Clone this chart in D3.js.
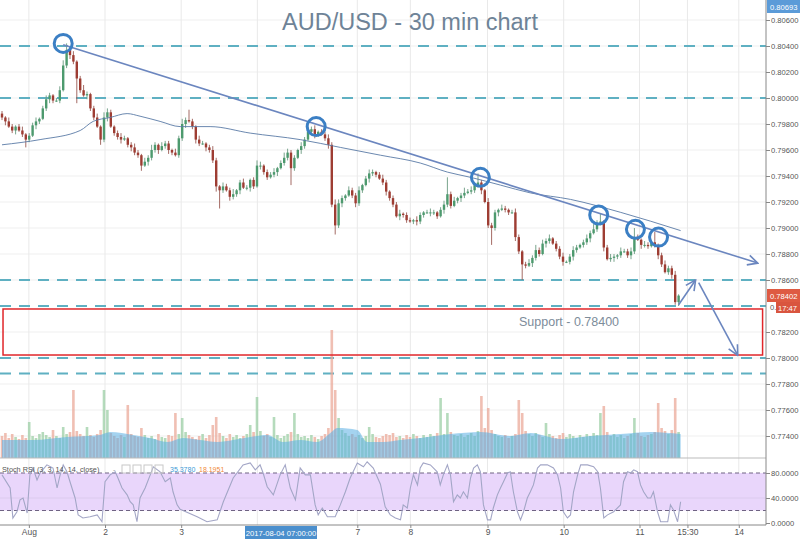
<!DOCTYPE html>
<html><head><meta charset="utf-8">
<script src="https://cdn.jsdelivr.net/npm/d3@7"></script>
<style>body{margin:0;background:#fff;} svg{display:block;font-family:"Liberation Sans",Arial,sans-serif;}</style>
</head><body><svg id="c" width="800" height="539"></svg>
<script>
// ---------- DATA ----------
const firstOpen = 0.7988;
const closes = [
0.7985,0.7982,0.7978,0.7975,0.7978,0.7975,0.7972,0.7968,0.7971,0.7979,0.7982,0.7984,0.7992,0.7999,0.8002,0.7998,0.7998,0.8006,0.8025,0.8037,
0.8033,0.8028,0.8015,0.8006,0.8002,0.8003,0.7992,0.7985,0.7978,0.7968,0.7985,0.7989,0.7978,0.7973,0.7970,0.7968,0.7969,0.7964,0.7962,0.7958,
0.7956,0.7948,0.7951,0.7954,0.7960,0.7964,0.7960,0.7963,0.7965,0.7960,0.7958,0.7956,0.7969,0.7980,0.7983,0.7982,0.7978,0.7968,0.7965,0.7965,
0.7962,0.7960,0.7952,0.7932,0.7929,0.7932,0.7929,0.7924,0.7926,0.7929,0.7935,0.7931,0.7931,0.7937,0.7932,0.7948,0.7948,0.7943,0.7939,0.7941,
0.7943,0.7946,0.7950,0.7954,0.7958,0.7946,0.7954,0.7960,0.7963,0.7968,0.7974,0.7976,0.7972,0.7974,0.7972,0.7969,0.7964,0.7918,0.7902,0.7919,
0.7923,0.7925,0.7929,0.7925,0.7919,0.7929,0.7933,0.7938,0.7942,0.7943,0.7941,0.7938,0.7935,0.7928,0.7923,0.7918,0.7909,0.7911,0.7910,0.7906,
0.7905,0.7906,0.7905,0.7910,0.7912,0.7912,0.7912,0.7912,0.7909,0.7914,0.7918,0.7926,0.7917,0.7921,0.7923,0.7925,0.7927,0.7928,0.7929,0.7933,
0.7935,0.7929,0.7920,0.7902,0.7900,0.7912,0.7914,0.7915,0.7914,0.7912,0.7912,0.7893,0.7882,0.7872,0.7871,0.7873,0.7877,0.7883,0.7880,0.7888,
0.7890,0.7892,0.7888,0.7884,0.7878,0.7874,0.7874,0.7878,0.7883,0.7885,0.7887,0.7889,0.7892,0.7896,0.7899,0.7904,0.7905,0.7885,0.7876,0.7877,
0.7878,0.7879,0.7882,0.7882,0.7879,0.7882,0.7893,0.7891,0.7887,0.7887,0.7886,0.7889,0.7887,0.7879,0.7872,0.7866,0.7869,0.7864,0.7843,0.7848];
// wick lengths above / below the body, in pips
const wickHi = [
2,1,3,2,1,2,3,1,2,2,3,1,2,3,2,1,2,3,4,5, 2,3,1,2,4,2,1,2,3,1,4,3,2,1,2,3,2,1,2,3,
2,1,3,2,4,2,1,3,2,2,1,3,2,4,2,8,2,1,3,2, 1,2,3,2,1,3,2,2,4,1,2,3,2,1,2,4,3,1,2,2,
3,1,2,4,3,2,2,1,3,2,4,2,3,1,2,2,3,2,4,3, 2,1,3,2,2,3,1,2,3,2,1,2,3,2,1,2,2,3,1,2,
2,1,3,2,1,2,3,2,1,2,3,13,2,3,1,2,4,2,3,2, 7,2,1,3,2,2,1,3,2,1,2,3,2,1,2,3,2,4,2,3,
2,3,1,2,2,3,1,2,3,2,1,2,3,2,4,2,6,1,2,3, 2,1,3,2,2,3,7,2,1,3,2,2,8,1,2,3,2,2,3,1];
const wickLo = [
2,3,1,2,3,1,2,6,2,1,3,2,1,2,3,2,1,2,1,2, 3,2,19,2,1,3,2,2,1,4,2,3,1,2,2,3,1,2,3,2,
2,4,1,3,2,2,3,1,2,3,2,1,2,2,3,1,2,3,2,1, 3,2,2,4,14,2,1,3,2,2,3,1,2,3,2,1,3,2,2,1,
2,3,1,2,2,13,2,1,3,2,1,2,3,2,1,2,3,2,7,2, 3,2,1,2,3,2,2,1,3,2,2,1,2,3,2,2,1,3,2,2,
1,2,3,2,2,1,3,2,2,1,3,2,2,1,2,3,2,1,2,2, 2,3,1,2,13,2,3,1,2,2,1,3,2,12,2,1,3,2,2,1,
3,2,1,2,2,3,1,2,3,2,1,2,2,3,1,2,2,3,1,2, 3,2,2,1,2,3,2,1,3,2,2,1,2,3,2,1,2,3,2,3];
const volumes = [
22,25,20,24,21,19,23,20,36,22,20,24,26,23,21,28,22,20,31,24, 26,68,27,24,22,31,23,21,24,28,68,48,25,22,20,23,21,53,24,22,
21,30,23,20,22,19,24,21,20,23,22,45,24,40,26,23,21,19,22,24, 20,23,33,41,25,22,20,24,21,23,20,22,24,33,26,61,27,22,24,21,
41,23,20,22,24,26,45,24,21,22,20,23,21,19,22,24,30,128,68,40, 28,25,22,24,21,23,20,22,31,24,21,20,22,24,23,25,21,22,20,23,
21,24,22,20,23,21,24,22,25,60,24,45,26,23,22,24,21,23,25,22, 27,62,30,50,28,24,22,21,23,20,22,24,58,45,27,24,22,25,23,21,
35,24,22,20,23,25,21,24,22,20,23,21,24,22,25,23,45,52,26,22, 24,21,23,20,22,24,40,25,22,21,23,24,26,55,30,27,24,28,60,26];
// volume moving average (bar index, value)
const volMAIdx = [0,9.1,19.1,28.8,31.8,38.6,43.6,48.6,53.3,58.3,63.3,68,73,78,82.7,87.7,92.7,96.6,98.6,104.5,107.4,112.2,117.2,123,131.9,140.7,149.5,155.4,164.3,173.1,181.9,190.8,199.6];
const volMA    = [18,18,21,23,26,23,20,16,20,18,16,18,21,23,16,18,16,25,30,28,16,16,18,20,24,26,22,25,19,22,24,26,24];
// price moving average (bar index, price)
const smaIdx = [0,11.2,23,26.8,31.8,36.8,40.6,46.5,52.4,61.2,73,87.7,99.5,111.3,123,131,137.8,146.6,155.4,167.2,182,199.6];
const smaVal = [0.7964,0.7968,0.7975,0.7982,0.7985,0.7988,0.7986,0.7982,0.7978,0.7978,0.7973,0.7968,0.7962,0.7956,0.7950,0.7943,0.7939,0.7933,0.7927,0.7922,0.7912,0.7898];
// Stoch RSI %K (bar index, value)
const stochIdx = [0,2.4,3.2,4.4,5.3,6.2,7.4,8.2,9.1,10.3,11.2,13.2,15,16.2,17.1,18,19.1,20,21.5,22.4,23.8,25.9,28,29.4,30.3,31.8,33.3,34.1,35.3,36.8,37.7,38.6,39.7,40.6,42.1,43.6,44.5,46.5,48,49.5,50.3,51.5,52.4,57.4,60.3,63.3,65.1,68,70.9,73,74.5,75.9,76.8,78,79.8,81.8,83.3,84.8,86.3,87.7,89.2,90.7,92.1,93,94.2,95.7,98,99.5,101,102.4,104.5,106.3,107.4,109.2,111.3,112.7,114.2,115.7,117.2,118,119.2,120.1,121,122.2,123,123.9,126,128,128.9,129.8,131,131.9,132.8,133.9,134.8,135.7,136.9,137.8,138.7,139.8,140.7,141.6,142.8,143.7,144.5,145.7,146.6,147.5,148.7,149.5,150.4,151.6,152.5,153.4,154.5,155.4,156.3,157.5,158.4,160.4,162.2,163.4,164.3,165.1,166.3,167.2,168.1,169.3,170.2,172.2,174,175.2,176,177,178.1,179.9,181.9,182.8,184,184.9,185.8,186.9,187.8,188.7,189.9,190.8,191.6,192.8,193.7,194.6,195.8,196.6,197.5,198.7,199.6];
const stochK   = [77,56,8,18,37,40,16,77,88,69,80,93,88,56,77,93,82,66,40,13,8,10,13,2,66,77,82,72,56,45,34,29,2,40,56,77,90,82,66,72,50,29,22,10,2,5,34,72,93,96,85,93,80,58,45,77,93,56,37,88,77,77,29,13,24,10,10,29,50,72,96,90,98,88,62,26,13,8,5,29,24,56,77,61,88,96,93,82,61,77,93,77,34,45,40,50,40,72,88,93,82,29,5,5,24,45,56,66,80,82,50,18,5,18,40,50,61,88,93,93,88,77,56,18,8,13,50,77,93,93,90,82,56,8,13,18,29,66,82,80,85,82,61,50,40,40,50,18,2,2,2,29,21,2,34];
// axes
const priceTicks = [0.774,0.776,0.778,0.780,0.782,0.786,0.788,0.790,0.792,0.794,0.796,0.798,0.800,0.802,0.804,0.806];
const stochTicks = [0,40,80];
const timeLabels = ["Aug","2","3","7","8","9","10","11","15:30","14"];
const timePos    = [7.9,30.3,52.7,104.5,120.1,142.8,165.2,187.5,201.6,216.7];
const gridPos    = [7.9,30.3,52.7,75.1,104.5,120.1,142.8,165.2,187.5,201.6,216.7];
// annotations
const levels = [0.8040,0.8000,0.7860,0.7840,0.7800,0.7788];
const trend = [[18,0.8041],[222.3,0.7873]];
const circles = [[18,0.8042],[92.4,0.7978],[140.7,0.7939],[175.5,0.7910],[186.3,0.7899],[193.1,0.7893]];
const supportBox = {i0:0.3, i1:223.7, top:0.78377, bottom:0.78023};
const arrowUp = [[199,0.7841],[204,0.7860]];
const arrowDown = [[204.9,0.7858],[216.4,0.7802]];

// ---------- DRAW ----------
const svg = d3.select('#c');
const AX = 766, PANE = 458, BOT = 525;
const FONT = '"Liberation Sans",Arial,sans-serif';
const x = d3.scaleLinear().domain([0,199]).range([2,678.6]);
const y = d3.scaleLinear().domain([0.774,0.806]).range([436,20]);
const yv = d3.scaleLinear().domain([0,128]).range([PANE,330]);
const ys = d3.scaleLinear().domain([0,100]).range([523,460.5]);

const defs = svg.append('defs');
defs.append('clipPath').attr('id','mc').append('rect').attr('x',0).attr('y',0).attr('width',AX).attr('height',PANE);
defs.append('clipPath').attr('id','sc').append('rect').attr('x',0).attr('y',PANE).attr('width',AX).attr('height',BOT-PANE);
defs.append('marker').attr('id','ah').attr('viewBox','0 0 12 12').attr('refX',11).attr('refY',6)
   .attr('markerWidth',12).attr('markerHeight',12).attr('markerUnits','userSpaceOnUse').attr('orient','auto')
   .append('path').attr('d','M1,1 L11,6 L1,11').attr('fill','none').attr('stroke','#6b86bf').attr('stroke-width',1.6);

svg.append('rect').attr('width',800).attr('height',539).attr('fill','#fff');

// grid
const grid = svg.append('g');
grid.selectAll('.hg').data(priceTicks).enter().append('line')
  .attr('x1',0).attr('x2',AX).attr('y1',d=>y(d)).attr('y2',d=>y(d)).attr('stroke','#efefef');
grid.selectAll('.vg').data(gridPos).enter().append('line')
  .attr('x1',d=>x(d)).attr('x2',d=>x(d)).attr('y1',0).attr('y2',BOT).attr('stroke','#e9e9e9');

const main = svg.append('g').attr('clip-path','url(#mc)');

// dashed levels
main.selectAll('.lv').data(levels).enter().append('line')
  .attr('x1',0).attr('x2',AX).attr('y1',d=>y(d)).attr('y2',d=>y(d))
  .attr('stroke','#5fb0c2').attr('stroke-width',2).attr('stroke-dasharray','11,8');

// candles data
const opens = closes.map((c,i)=> i===0 ? firstOpen : closes[i-1]);
const bars = closes.map((c,i)=>{
  const o = opens[i];
  return {i, o, c, h: Math.max(o,c)+wickHi[i]*0.0001, l: Math.min(o,c)-wickLo[i]*0.0001, v: volumes[i], up: c>=o};
});

// volume
main.selectAll('.vb').data(bars).enter().append('rect')
  .attr('x',d=>x(d.i)-1.3).attr('width',2.6)
  .attr('y',d=>yv(d.v)).attr('height',d=>PANE-yv(d.v))
  .attr('fill',d=>d.up?'#9ccfa6':'#eba99a').attr('opacity',0.75);
const va = d3.area().x((d,k)=>x(volMAIdx[k])).y0(PANE).y1(d=>yv(d)).curve(d3.curveMonotoneX);
main.append('path').datum(volMA).attr('d',va).attr('fill','#5aaee3').attr('opacity',0.55);

// support box
main.append('rect').attr('x',x(supportBox.i0)).attr('width',x(supportBox.i1)-x(supportBox.i0))
  .attr('y',y(supportBox.top)).attr('height',y(supportBox.bottom)-y(supportBox.top))
  .attr('fill','none').attr('stroke','#e0262a').attr('stroke-width',1.5);

// candles
const cg = main.append('g');
cg.selectAll('.wk').data(bars).enter().append('line')
  .attr('x1',d=>x(d.i)).attr('x2',d=>x(d.i)).attr('y1',d=>y(d.h)).attr('y2',d=>y(d.l))
  .attr('stroke',d=>d.up?'#6a9a80':'#9a5a52').attr('stroke-width',0.9);
cg.selectAll('.bd').data(bars).enter().append('rect')
  .attr('x',d=>x(d.i)-1.2).attr('width',2.4)
  .attr('y',d=>y(Math.max(d.o,d.c))).attr('height',d=>Math.max(1,Math.abs(y(d.o)-y(d.c))))
  .attr('fill',d=>d.up?'#4d9a6e':'#9e3d33');

// SMA
main.append('path').datum(smaVal)
  .attr('d',d3.line().x((d,k)=>x(smaIdx[k])).y(d=>y(d)).curve(d3.curveMonotoneX))
  .attr('fill','none').attr('stroke','#5a7aa6').attr('stroke-width',0.9);

// trend line
main.append('line').attr('x1',x(trend[0][0])).attr('y1',y(trend[0][1])).attr('x2',x(trend[1][0])).attr('y2',y(trend[1][1]))
  .attr('stroke','#6b86bf').attr('stroke-width',1.6).attr('marker-end','url(#ah)');

// circles
main.selectAll('.ci').data(circles).enter().append('circle')
  .attr('cx',d=>x(d[0])).attr('cy',d=>y(d[1])).attr('r',9)
  .attr('fill','none').attr('stroke','#3b7fc4').attr('stroke-width',3);

// arrows
[arrowUp,arrowDown].forEach(a=>{
  main.append('line').attr('x1',x(a[0][0])).attr('y1',y(a[0][1])).attr('x2',x(a[1][0])).attr('y2',y(a[1][1]))
   .attr('stroke','#6b86bf').attr('stroke-width',1.6).attr('marker-end','url(#ah)');
});

// texts
svg.append('text').attr('x',410).attr('y',30).attr('text-anchor','middle')
  .attr('font-size',23.5).attr('fill','#6e8397').text('AUD/USD - 30 min chart');
svg.append('text').attr('x',519).attr('y',326).attr('font-size',12.5).attr('fill','#7d8c9a').text('Support - 0.78400');

// pane separator
svg.append('line').attr('x1',0).attr('x2',AX).attr('y1',PANE).attr('y2',PANE).attr('stroke','#bbb');

// stoch pane
const st = svg.append('g').attr('clip-path','url(#sc)');
st.append('rect').attr('x',0).attr('width',AX).attr('y',ys(80)).attr('height',ys(20)-ys(80)).attr('fill','#e9d6fb');
st.append('line').attr('x1',0).attr('x2',AX).attr('y1',ys(40)).attr('y2',ys(40)).attr('stroke','#dccbee');
[20,80].forEach(v=>st.append('line').attr('x1',0).attr('x2',AX).attr('y1',ys(v)).attr('y2',ys(v))
  .attr('stroke','#6f6383').attr('stroke-dasharray','4,3'));
st.append('path').datum(stochK)
  .attr('d',d3.line().x((d,k)=>x(stochIdx[k])).y(d=>ys(d)))
  .attr('fill','none').attr('stroke','#a3a6c6').attr('stroke-width',1.1);

// stoch legend
const lg = svg.append('g').attr('font-size',7.3);
lg.append('text').attr('x',2).attr('y',472).attr('fill','#555').text('Stoch RSI (3, 3, 14, 14, close)');
lg.append('text').attr('x',113).attr('y',472).attr('fill','#999').text('-');
[122,133,144,155].forEach(px=>lg.append('rect').attr('x',px).attr('y',465).attr('width',8).attr('height',8)
  .attr('fill','none').attr('stroke','#c8c8c8'));
lg.append('text').attr('x',170).attr('y',472).attr('fill','#3e9ad6').attr('font-size',7).text('35.3780');
lg.append('text').attr('x',199).attr('y',472).attr('fill','#f08a3c').attr('font-size',7).text('18.1951');

// price axis
svg.append('line').attr('x1',AX).attr('x2',AX).attr('y1',0).attr('y2',BOT).attr('stroke','#888');
function styleAxis(g, fs){
  g.select('.domain').remove();
  g.selectAll('line').attr('stroke','#888');
  g.selectAll('text').attr('font-size',fs).attr('fill','#555').attr('font-family',FONT);
}
const pa = svg.append('g').attr('transform',`translate(${AX},0)`)
  .call(d3.axisRight(y).tickValues(priceTicks).tickFormat(d3.format('.5f')).tickSize(4));
styleAxis(pa, 7.6);
pa.selectAll('text').attr('x',5);
const sa = svg.append('g').attr('transform',`translate(${AX},0)`)
  .call(d3.axisRight(ys).tickValues(stochTicks).tickFormat(d3.format('.4f')).tickSize(4));
styleAxis(sa, 7.6);
sa.selectAll('text').attr('x',5);

// time axis
svg.append('line').attr('x1',0).attr('x2',AX).attr('y1',BOT).attr('y2',BOT).attr('stroke','#888');
const ta = svg.append('g').attr('transform',`translate(0,${BOT})`)
  .call(d3.axisBottom(x).tickValues(timePos).tickFormat((d,k)=>timeLabels[k]).tickSize(3));
styleAxis(ta, 8.5);
ta.selectAll('text').attr('dy','0.5em');

// crosshair time label
svg.append('rect').attr('x',245).attr('y',526).attr('width',72).attr('height',13).attr('fill','#4b8fcd');
svg.append('text').attr('x',281).attr('y',535.5).attr('text-anchor','middle').attr('font-size',7.6).attr('fill','#fff')
  .text('2017-08-04 07:00:00');

// price labels
svg.append('rect').attr('x',767).attr('y',0).attr('width',33).attr('height',13).attr('fill','#5b9bd8');
svg.append('text').attr('x',770).attr('y',9.5).attr('font-size',7.6).attr('fill','#fff').text('0.80693');
svg.append('rect').attr('x',767).attr('y',289).attr('width',33).attr('height',13).attr('fill','#de5a42');
svg.append('text').attr('x',770).attr('y',298.5).attr('font-size',7.6).attr('fill','#fff').text('0.78402');
svg.append('text').attr('x',770).attr('y',310).attr('font-size',7.6).attr('fill','#555').text('0.');
svg.append('rect').attr('x',776).attr('y',302).attr('width',24).attr('height',11).attr('fill','#d9553f');
svg.append('text').attr('x',778).attr('y',310.5).attr('font-size',7.6).attr('fill','#fff').text('17:47');
</script></body></html>
